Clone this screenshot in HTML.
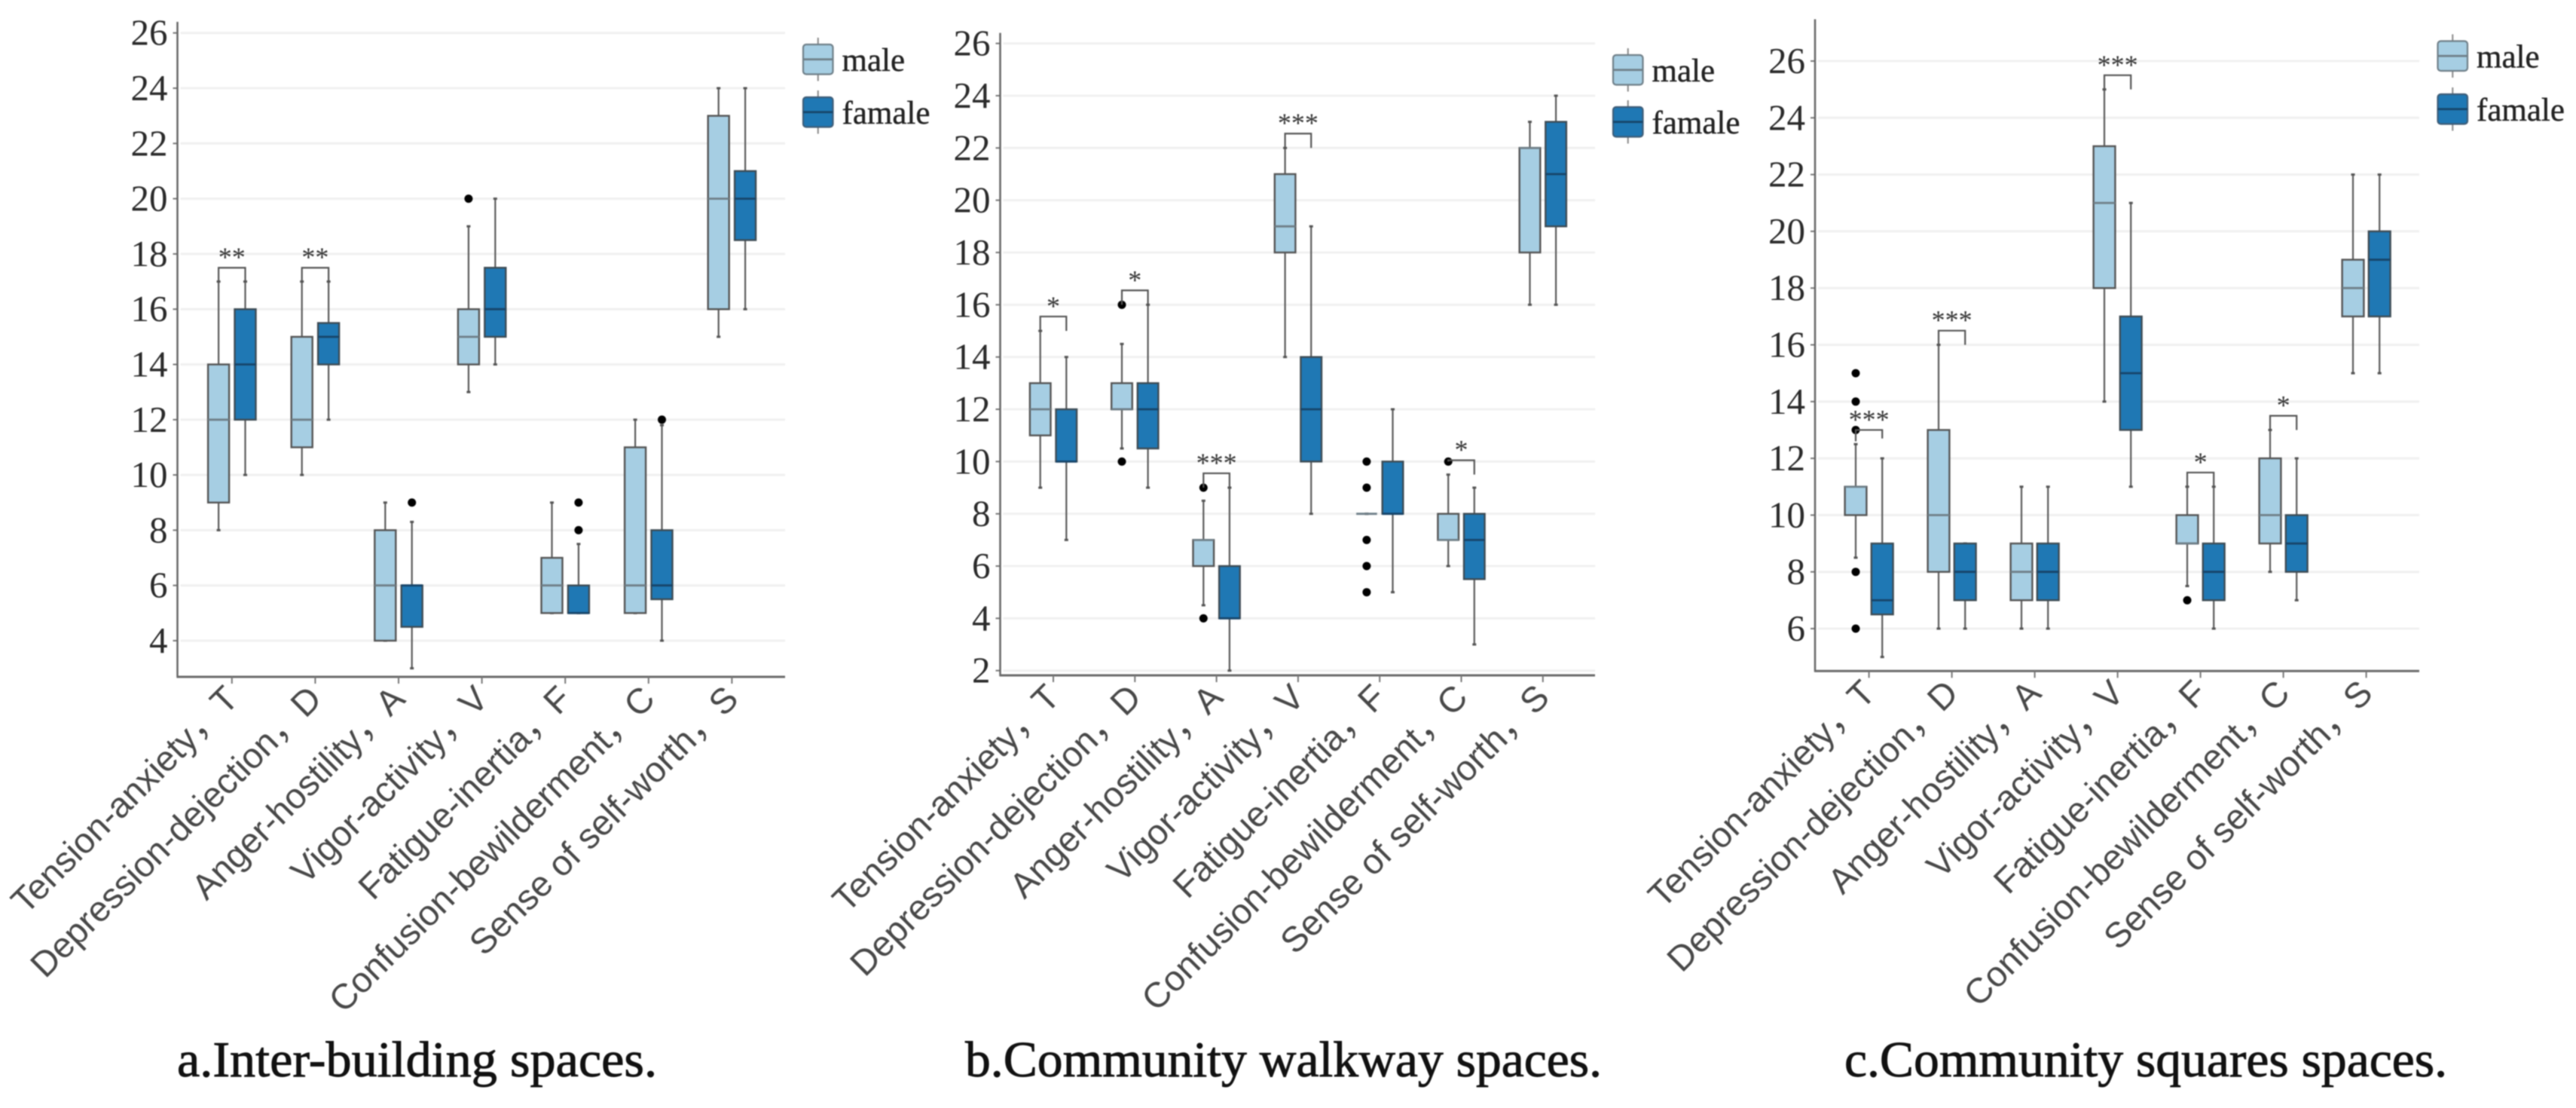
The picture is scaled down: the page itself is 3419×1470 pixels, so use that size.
<!DOCTYPE html>
<html lang="en">
<head>
<meta charset="utf-8">
<title>Mood scale box plots by gender in three community spaces</title>
<style>
html,body{margin:0;padding:0;background:#fff;}
body{width:3419px;height:1470px;overflow:hidden;}
svg{display:block;filter:blur(0.8px);}
text{white-space:pre;}
</style>
</head>
<body>
<svg id="figure" xmlns="http://www.w3.org/2000/svg" width="3419" height="1470" viewBox="0 0 3419 1470">
  <rect x="0" y="0" width="3419" height="1470" fill="#ffffff"/>
  <text x="235" y="1428" font-family="'Liberation Serif',serif" font-size="67" fill="#111" stroke="#111" stroke-width="0.9" textLength="637" lengthAdjust="spacingAndGlyphs">a.Inter-building spaces.</text>
  <text x="1281" y="1428" font-family="'Liberation Serif',serif" font-size="67" fill="#111" stroke="#111" stroke-width="0.9" textLength="845" lengthAdjust="spacingAndGlyphs">b.Community walkway spaces.</text>
  <text x="2448" y="1428" font-family="'Liberation Serif',serif" font-size="67" fill="#111" stroke="#111" stroke-width="0.9" textLength="800" lengthAdjust="spacingAndGlyphs">c.Community squares spaces.</text>
</svg>
<script>
// Shared labels
const categories = ['Tension-anxiety，T','Depression-dejection，D','Anger-hostility，A','Vigor-activity，V','Fatigue-inertia，F','Confusion-bewilderment，C','Sense of self-worth，S'];
const categoryKeys = ['t','d','a','v','f','c','s'];
const seriesNames = ['male','famale'];

// Panel a: each row is [whisker low, q1, median, q3, whisker high]
const aTicks = [4,6,8,10,12,14,16,18,20,22,24,26];
const aMale = [[8,9,12,14,17],[10,11,12,15,17],[4,4,6,8,9],[13,14,15,16,19],[5,5,6,7,9],[5,5,6,11,12],[15,16,20,23,24]];
const aFemale = [[10,12,14,16,17],[12,14,15,15.5,17],[3,4.5,6,6,8.3],[14,15,16,17.5,20],[5,5,5,6,7.5],[4,5.5,6,8,11.8],[16,18.5,20,21,24]];
const aMaleOutliers = [[],[],[],[20],[],[],[]];
const aFemaleOutliers = [[],[],[9],[],[8,9],[12],[]];
// Brackets: [category index, top value, left leg value, right leg value, stars]
const aBrackets = [[0,17.5,17,17,'**'],[1,17.5,17,17,'**']];

// Panel b
const bTicks = [2,4,6,8,10,12,14,16,18,20,22,24,26];
const bMale = [[9,11,12,13,15],[10.5,12,12,13,14.5],[4.5,6,7,7,8.5],[14,18,19,21,22],[8,8,8,8,8],[6,7,7,8,9.5],[16,18,22,22,23]];
const bFemale = [[7,10,10,12,14],[9,10.5,12,13,16],[2,4,4,6,9],[8,10,12,14,19],[5,8,8,10,12],[3,5.5,7,8,9],[16,19,21,23,24]];
const bMaleOutliers = [[],[10,16],[4,9],[],[5,6,7,9,10],[10],[]];
const bFemaleOutliers = [[],[],[],[],[],[],[]];
const bBrackets = [[0,15.55,15,15,'*'],[1,16.55,16,16,'*'],[2,9.55,9,9,'***'],[3,22.55,22,22,'***'],[5,10.05,10,9.5,'*']];

// Panel c
const cTicks = [6,8,10,12,14,16,18,20,22,24,26];
const cMale = [[8.5,10,11,11,12.5],[6,8,10,13,16],[6,7,8,9,11],[14,18,21,23,25],[7.5,9,9,10,11],[8,9,10,12,13],[15,17,18,19,22]];
const cFemale = [[5,6.5,7,9,12],[6,7,8,9,9],[6,7,8,9,11],[11,13,15,17,21],[6,7,8,9,11],[7,8,9,10,12],[15,17,19,20,22]];
const cMaleOutliers = [[6,8,13,14,15],[],[],[],[7],[],[]];
const cFemaleOutliers = [[],[],[],[],[],[],[]];
const cBrackets = [[0,13,12.6,12.7,'***'],[1,16.5,16,16,'***'],[3,25.5,25,25,'***'],[4,11.5,11,11,'*'],[5,13.5,13,13,'*']];

const NS = 'http://www.w3.org/2000/svg';
const COL_LIGHT = '#a6cee3', COL_DARK = '#1f78b4';
const root = document.getElementById('figure');

function mk(parent, tag, attrs, txt){
  const el = document.createElementNS(NS, tag);
  for (const k in attrs) el.setAttribute(k, attrs[k]);
  if (txt !== undefined) el.textContent = txt;
  parent.appendChild(el);
  return el;
}

function drawBox(g, stats, cx, halfW, fill, medianCol, strokeCol, y, tag){
  const [lo, q1, med, q3, hi] = stats;
  const whisker = mk(g, 'line', {x1:cx, x2:cx, y1:y(hi), y2:y(lo), stroke:'#5a5a5a', 'stroke-width':2.2});
  
  
  const capHi = mk(g, 'line', {x1:cx-2.5, x2:cx+2.5, y1:y(hi), y2:y(hi), stroke:'#555', 'stroke-width':3});
  
  
  const capLo = mk(g, 'line', {x1:cx-2.5, x2:cx+2.5, y1:y(lo), y2:y(lo), stroke:'#555', 'stroke-width':3});
  
  
  const box = mk(g, 'rect', {x:cx-halfW, y:y(q3), width:halfW*2, height:y(q1)-y(q3), fill:fill, stroke:strokeCol, 'stroke-width':2.4});
  
  
  const median = mk(g, 'line', {x1:cx-halfW, x2:cx+halfW, y1:y(med), y2:y(med), stroke:medianCol, 'stroke-width':2.8});
  
  
}

function drawPanel(id, p){
  const g = mk(root, 'g', {});
  
  
  // linear axes derived from two calibration ticks
  const y = v => p.yRef + (v - p.vRef) * -p.unit;
  const xTick = i => p.x0 + i * p.step;

  p.ticks.forEach(t => {
    const grid = mk(g, 'line', {x1:p.axisX+4, x2:p.right, y1:y(t), y2:y(t), stroke:'#f0f0f0', 'stroke-width':3});
    
    
    const tk = mk(g, 'line', {x1:p.axisX-6, x2:p.axisX, y1:y(t), y2:y(t), stroke:'#777', 'stroke-width':2});
    
    
    const lab = mk(g, 'text', {x:p.axisX-13, y:y(t)+16, 'text-anchor':'end', 'font-family':"'Liberation Serif',serif", 'font-size':49, fill:'#2a2a2a'}, String(t));
    
    
  });

  const axY = mk(g, 'line', {x1:p.axisX, x2:p.axisX, y1:p.top, y2:p.bottom+1, stroke:'#666', 'stroke-width':2.5});
  
  
  const axX = mk(g, 'line', {x1:p.axisX-1, x2:p.right, y1:p.bottom, y2:p.bottom, stroke:'#6a6a6a', 'stroke-width':3});
  
  

  categories.forEach((c, i) => {
    const tx = xTick(i);
    const key = categoryKeys[i];
    const tk = mk(g, 'line', {x1:tx, x2:tx, y1:p.bottom, y2:p.bottom+9, stroke:'#777', 'stroke-width':2});
    
    
    const ex = tx + 11, ey = p.bottom + 32;
    const lab = mk(g, 'text', {x:ex, y:ey, 'text-anchor':'end', transform:`rotate(-45 ${ex} ${ey})`,
      'font-family':"'Liberation Sans','Noto Sans CJK SC',sans-serif", 'font-size':47, fill:'#484848'}, c);
    
    

    const mx = tx - p.off, fx = tx + p.off;
    drawBox(g, p.male[i], mx, p.halfW, COL_LIGHT, '#6f7f88', '#555', y, 'male-' + key);
    drawBox(g, p.female[i], fx, p.halfW, COL_DARK, '#17456a', '#3e4c55', y, 'female-' + key);
    p.maleOut[i].forEach(v => {
      const d = mk(g, 'circle', {cx:mx, cy:y(v), r:5.5, fill:'#000'});
      
      
    });
    p.femaleOut[i].forEach(v => {
      const d = mk(g, 'circle', {cx:fx, cy:y(v), r:5.5, fill:'#000'});
      
      
    });
  });

  p.brackets.forEach(b => {
    const [idx, topV, lV, rV, stars] = b;
    const tx = xTick(idx), mx = tx - p.off, fx = tx + p.off;
    const br = mk(g, 'path', {d:`M${mx} ${y(lV)}V${y(topV)}H${fx}V${y(rV)}`, fill:'none', stroke:'#555', 'stroke-width':2.2});
    
    
    const st = mk(g, 'text', {x:tx, y:y(topV)-2, 'text-anchor':'middle', 'font-family':"'Liberation Serif',serif", 'font-size':36, fill:'#333'}, stars);
    
    
  });

  // legend
  const lg = mk(g, 'g', {});
  
  
  seriesNames.forEach((name, i) => {
    const top = p.legY[i], h = 39.5, lx = p.legX, w = 39.5;
    const midX = lx + w/2, fill = i ? COL_DARK : COL_LIGHT;
    const lw = mk(lg, 'line', {x1:midX, x2:midX, y1:top-9, y2:top+h+9, stroke:'#888', 'stroke-width':2});
    
    
    const r = mk(lg, 'rect', {x:lx, y:top, width:w, height:h, rx:4, fill:fill, stroke:i ? '#3e5d78' : '#6f7f88', 'stroke-width':2.2});
    
    
    const m = mk(lg, 'line', {x1:lx, x2:lx+w, y1:top+h/2, y2:top+h/2, stroke:i ? '#17456a' : '#6f7f88', 'stroke-width':2.8});
    
    
    const t = mk(lg, 'text', {x:lx+w+12, y:top+h/2+15, 'font-family':"'Liberation Serif',serif", 'font-size':43, fill:'#222', stroke:'#222', 'stroke-width':0.4}, name);
    
    
  });
}

drawPanel('a', {ticks:aTicks, male:aMale, female:aFemale, maleOut:aMaleOutliers, femaleOut:aFemaleOutliers, brackets:aBrackets,
  axisX:235.5, top:29, bottom:898, right:1042, vRef:4, yRef:850, unit:36.65, x0:307.8, step:110.6, off:17.7, halfW:14,
  legX:1066, legY:[59,129]});
drawPanel('b', {ticks:bTicks, male:bMale, female:bFemale, maleOut:bMaleOutliers, femaleOut:bFemaleOutliers, brackets:bBrackets,
  axisX:1327.5, top:43.6, bottom:896, right:2117, vRef:2, yRef:889.7, unit:34.67, x0:1398, step:108.3, off:17.3, halfW:13.8,
  legX:2141, legY:[73,142]});
drawPanel('c', {ticks:cTicks, male:cMale, female:cFemale, maleOut:cMaleOutliers, femaleOut:cFemaleOutliers, brackets:cBrackets,
  axisX:2409, top:25.5, bottom:890.3, right:3211, vRef:6, yRef:834, unit:37.65, x0:2480.6, step:110, off:17.6, halfW:14.4,
  legX:3235.5, legY:[54.5,125]});
</script>
</body>
</html>
